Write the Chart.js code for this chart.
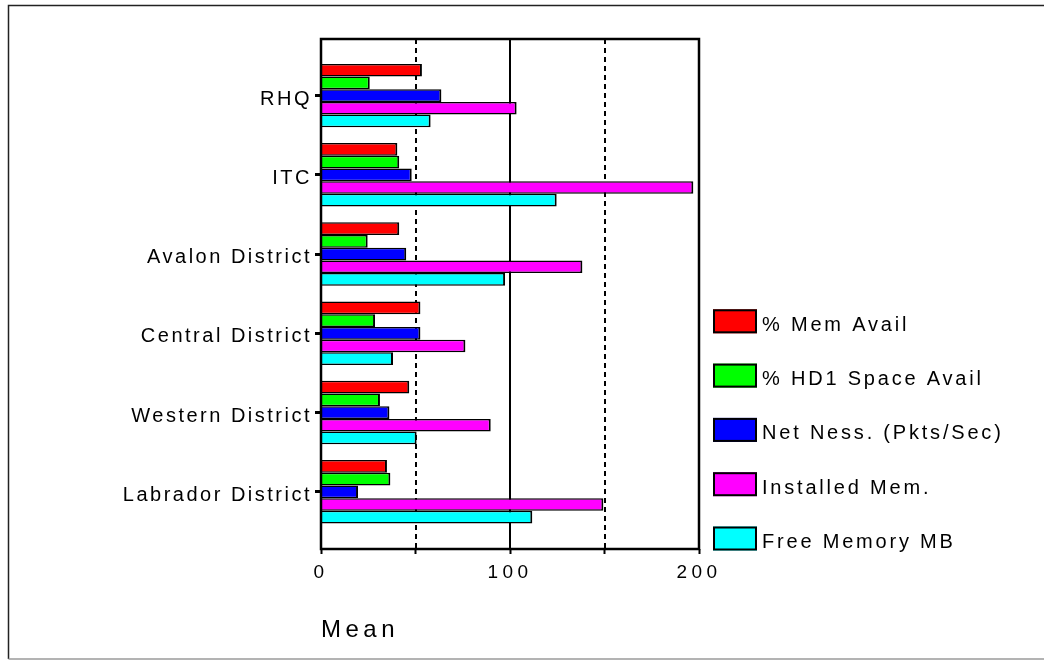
<!DOCTYPE html>
<html>
<head>
<meta charset="utf-8">
<title>Mean by site</title>
<script src="https://cdn.jsdelivr.net/npm/chart.js@4/dist/chart.umd.min.js"></script>
<style>
  html, body { margin: 0; padding: 0; background: #fff; }
  canvas { display: block; }
</style>
</head>
<body>
<canvas id="chart" width="1044" height="660"></canvas>
<script>
// Sites, top to bottom
const categories = ['RHQ', 'ITC', 'Avalon District', 'Central District', 'Western District', 'Labrador District'];

// Series values (mean per site)
const memAvail     = [53.4, 40.4, 41.4, 52.6, 46.7, 34.9];
const hd1Space     = [25.8, 41.4, 24.7, 28.6, 31.2, 36.7];
const netNess      = [63.7, 48.0, 45.1, 52.6, 36.2, 19.6];
const installedMem = [103.5, 197.0, 138.3, 76.4, 89.8, 149.4];
const freeMemory   = [58.0, 124.7, 97.4, 38.1, 50.6, 111.8];

const seriesNames = ['% Mem Avail', '% HD1 Space Avail', 'Net Ness. (Pkts/Sec)', 'Installed Mem.', 'Free Memory MB'];

// Value axis
const xTickLabels = [0, 100, 200];
const gridValues = [50, 100, 150];
const dashedGrid = [50, 150];

const FONT = '"Liberation Sans", Arial, Helvetica, sans-serif';
Chart.defaults.font.family = FONT;
Chart.defaults.color = '#000';

const toPoints = arr => arr.map((v, i) => ({ x: v, y: i }));

// Apply canvas letter spacing around one of a scale's text-drawing methods
function spaced(scale, method, spacing) {
  const flag = '_spacing_' + method;
  if (!scale || scale[flag]) return;
  const original = scale[method];
  scale[method] = function (...args) {
    const ctx = this.ctx;
    ctx.save();
    ctx.letterSpacing = spacing;
    original.apply(this, args);
    ctx.restore();
  };
  scale[flag] = true;
}

const textSpacing = {
  id: 'textSpacing',
  beforeDraw(chart) {
    spaced(chart.scales.x, 'drawLabels', '4.5px');
    spaced(chart.scales.x, 'drawTitle', '4.5px');
    spaced(chart.scales.y, 'drawLabels', '2.5px');
  }
};

// Vertical reference lines behind the bars
const refLines = {
  id: 'refLines',
  beforeDatasetsDraw(chart) {
    const { ctx, chartArea, scales: { x } } = chart;
    ctx.save();
    ctx.strokeStyle = '#000';
    ctx.lineWidth = 2;
    gridValues.forEach(v => {
      const px = Math.round(x.getPixelForValue(v));
      ctx.setLineDash(dashedGrid.includes(v) ? [5, 4] : []);
      ctx.beginPath();
      ctx.moveTo(px, chartArea.top);
      ctx.lineTo(px, chartArea.bottom);
      ctx.stroke();
    });
    ctx.restore();
  }
};

// Plot frame and outer border
const frames = {
  id: 'frames',
  afterDatasetsDraw(chart) {
    const { ctx, chartArea: a } = chart;
    ctx.save();
    ctx.strokeStyle = '#000';
    ctx.lineWidth = 2.5;
    ctx.strokeRect(a.left, a.top, a.right - a.left, a.bottom - a.top);
    ctx.restore();
  },
  afterDraw(chart) {
    const ctx = chart.ctx;
    ctx.save();
    ctx.lineWidth = 1.5;
    ctx.strokeStyle = '#222';
    ctx.beginPath();
    ctx.moveTo(8.5, 659);
    ctx.lineTo(8.5, 5.5);
    ctx.lineTo(1044, 5.5);
    ctx.stroke();
    ctx.strokeStyle = '#9a9a9a';
    ctx.beginPath();
    ctx.moveTo(8.5, 659);
    ctx.lineTo(1044, 659);
    ctx.stroke();
    ctx.restore();
  }
};

// Legend at the right of the plot
const sideLegend = {
  id: 'sideLegend',
  afterDraw(chart, args, opts) {
    const ctx = chart.ctx;
    ctx.save();
    ctx.font = '20px ' + FONT;
    ctx.letterSpacing = '2.8px';
    ctx.textBaseline = 'middle';
    ctx.textAlign = 'left';
    chart.data.datasets.forEach((ds, i) => {
      const top = opts.top + i * opts.step;
      ctx.fillStyle = ds.backgroundColor;
      ctx.fillRect(opts.left, top, opts.boxWidth, opts.boxHeight);
      ctx.lineWidth = 2;
      ctx.strokeStyle = '#000';
      ctx.strokeRect(opts.left + 1, top + 1, opts.boxWidth - 2, opts.boxHeight - 2);
      ctx.fillStyle = '#000';
      ctx.fillText(ds.label, opts.left + opts.boxWidth + opts.gap, top + opts.boxHeight / 2 + 4);
    });
    ctx.restore();
  }
};

const colors = ['#ff0000', '#00ff00', '#0000ff', '#ff00ff', '#00ffff'];
const seriesValues = [memAvail, hd1Space, netNess, installedMem, freeMemory];

new Chart(document.getElementById('chart'), {
  type: 'bar',
  data: {
    datasets: seriesValues.map((vals, i) => ({
      label: seriesNames[i],
      data: toPoints(vals),
      backgroundColor: colors[i],
      borderColor: '#000',
      borderWidth: { top: 1.5, bottom: 1.5, left: 0, right: 2 },
      borderSkipped: false,
      categoryPercentage: 0.8,
      barPercentage: 1.0
    }))
  },
  options: {
    indexAxis: 'y',
    responsive: false,
    animation: false,
    events: [],
    layout: { padding: { left: 0, top: 39, right: 345, bottom: 15 } },
    scales: {
      x: {
        type: 'linear',
        position: 'bottom',
        min: 0,
        max: 200,
        ticks: {
          stepSize: 50,
          padding: 7.6,
          font: { size: 19 },
          color: '#000',
          maxRotation: 0,
          callback: v => (xTickLabels.includes(v) ? String(v) : '')
        },
        grid: {
          drawOnChartArea: false,
          drawTicks: true,
          tickLength: 5,
          tickWidth: 2,
          tickColor: '#000'
        },
        border: { display: false },
        title: {
          display: true,
          text: 'Mean',
          align: 'start',
          font: { size: 24 },
          color: '#000',
          padding: { top: 0, bottom: 0 }
        },
        afterFit(scale) { scale.height = 96; }
      },
      y: {
        type: 'linear',
        reverse: true,
        offset: false,
        min: -0.714,
        max: 5.722,
        afterBuildTicks(axis) {
          axis.ticks = categories.map((c, i) => ({ value: i }));
        },
        ticks: {
          padding: 3,
          labelOffset: 3.5,
          font: { size: 20 },
          color: '#000',
          callback: v => categories[v] ?? ''
        },
        grid: {
          offset: false,
          drawOnChartArea: false,
          drawTicks: true,
          tickLength: 6,
          tickWidth: 3,
          tickColor: '#000'
        },
        border: { display: false },
        afterFit(scale) { scale.width = 321; }
      }
    },
    plugins: {
      legend: { display: false },
      tooltip: { enabled: false },
      sideLegend: { left: 713, top: 309.3, step: 54.3, boxWidth: 44, boxHeight: 24, gap: 5 }
    }
  },
  plugins: [textSpacing, refLines, frames, sideLegend]
});
</script>
</body>
</html>
